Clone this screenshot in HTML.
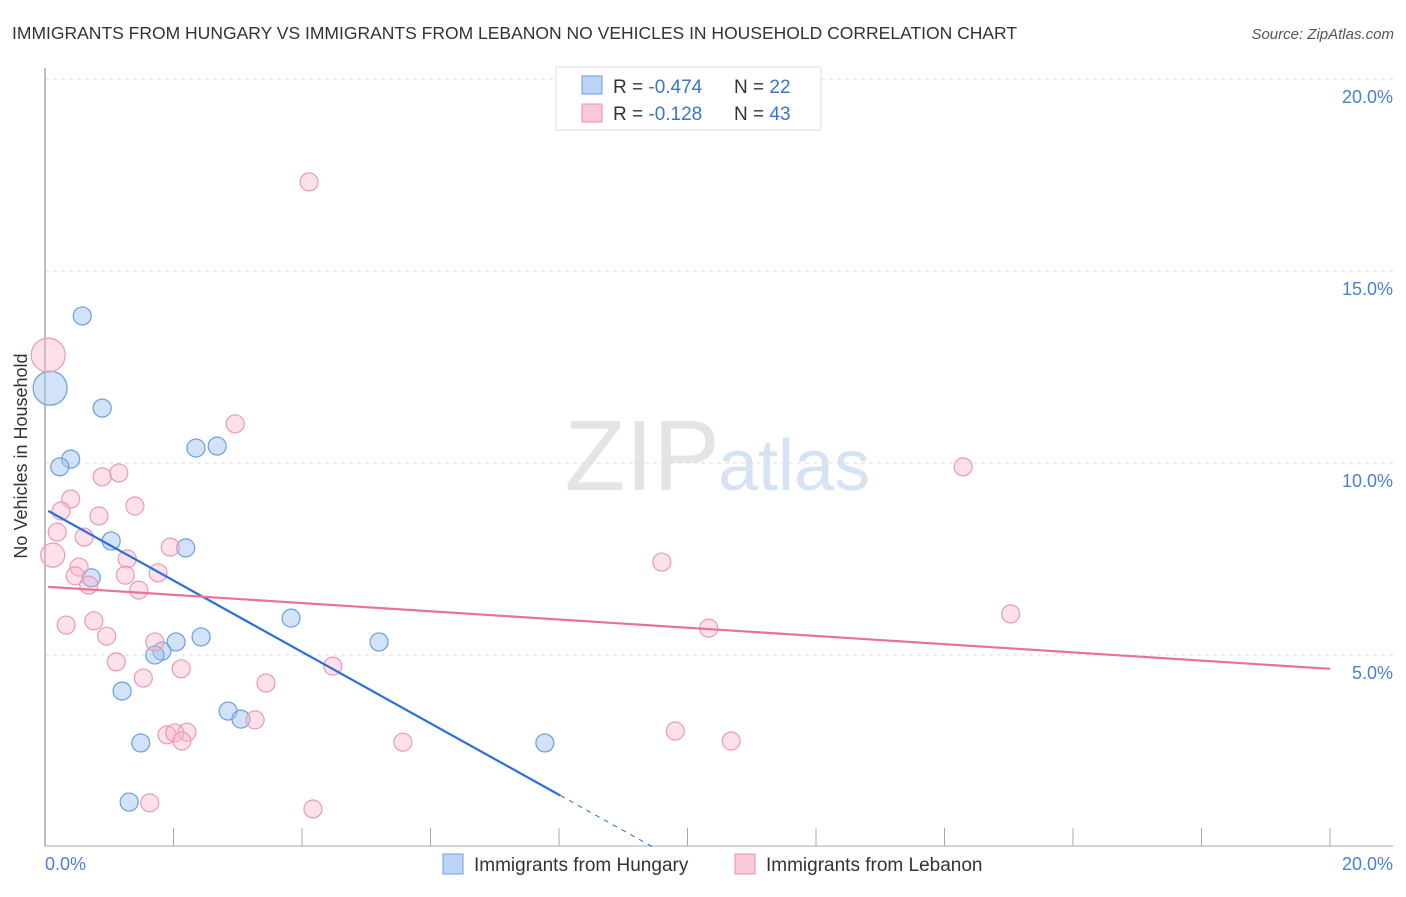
<!DOCTYPE html>
<html><head><meta charset="utf-8"><style>
body{margin:0;background:#fff;font-family:"Liberation Sans",sans-serif}
svg text{font-family:"Liberation Sans",sans-serif}
</style></head><body>
<svg id="c" width="1406" height="892">
<text x="12" y="39" font-size="17.5" fill="#333">IMMIGRANTS FROM HUNGARY VS IMMIGRANTS FROM LEBANON NO VEHICLES IN HOUSEHOLD CORRELATION CHART</text>
<text x="1394" y="39" font-size="15" fill="#555" font-style="italic" text-anchor="end">Source: ZipAtlas.com</text>
<text x="720" y="490" font-size="100" fill="#e4e4e4" text-anchor="end" font-family="Liberation Serif">ZIP</text>
<text x="718" y="490" font-size="72" fill="#d6e3f5">atlas</text>
<g id="grid"></g>
<line x1="45" y1="68" x2="45" y2="846" stroke="#aaa" stroke-width="1.5"/>
<line x1="45" y1="846" x2="1393" y2="846" stroke="#aaa" stroke-width="1"/>
<text x="27" y="456" font-size="18" fill="#333" text-anchor="middle" transform="rotate(-90 27 456)">No Vehicles in Household</text>
<text x="45" y="870" font-size="18" fill="#4a7fd4">0.0%</text>
<text x="1393" y="870" font-size="18" fill="#4a7fd4" text-anchor="end">20.0%</text>
<g id="pts"></g>
<g>
<rect x="556" y="67" width="265" height="63" fill="#fff" stroke="#ddd"/>
<rect x="582" y="76" width="20" height="18" fill="#bcd3f5" stroke="#6a9fe0"/>
<rect x="582" y="104" width="20" height="18" fill="#fac8d8" stroke="#e890b0"/>
<text x="613" y="93" font-size="19" fill="#333">R = <tspan fill="#3a73d0">-0.474</tspan><tspan x="734">N = </tspan><tspan fill="#3a73d0">22</tspan></text>
<text x="613" y="120" font-size="19" fill="#333">R = <tspan fill="#3a73d0"> -0.128</tspan><tspan x="734">N = </tspan><tspan fill="#3a73d0">43</tspan></text>
</g>
<g>
<rect x="443" y="854" width="20" height="20" fill="#bcd3f5" stroke="#6a9fe0"/>
<text x="474" y="871" font-size="19" fill="#333">Immigrants from Hungary</text>
<rect x="735" y="854" width="20" height="20" fill="#fac8d8" stroke="#e890b0"/>
<text x="766" y="871" font-size="19" fill="#333">Immigrants from Lebanon</text>
</g>
</svg>
<script>
const yTicks=[5,10,15,20];
const yTickLabels=["5.0%","10.0%","15.0%","20.0%"];
const xTicks=[0,2,4,6,8,10,12,14,16,18,20];
const hungaryX=[0.58,0.08,0.89,0.40,0.23,2.35,2.68,1.03,2.19,0.72,3.83,5.20,2.43,2.04,1.82,1.71,1.20,2.85,3.05,1.49,7.78,1.31];
const hungaryY=[13.83,11.95,11.43,10.10,9.90,10.39,10.44,7.97,7.79,7.01,5.96,5.34,5.47,5.34,5.10,5.00,4.06,3.54,3.33,2.71,2.71,1.17];
const hungaryBig=[0,1,0,0,0,0,0,0,0,0,0,0,0,0,0,0,0,0,0,0,0,0];
const lebanonX=[4.11,0.05,2.96,14.29,1.15,0.89,0.40,0.25,1.40,0.84,0.19,0.61,1.95,0.12,1.28,9.60,0.53,0.47,1.25,1.76,0.68,1.46,15.03,0.76,0.33,0.96,10.33,1.71,1.11,2.12,4.48,1.53,3.44,3.27,1.90,2.21,2.02,2.13,5.57,9.81,10.68,1.63,4.17];
const lebanonY=[17.32,12.81,11.02,9.90,9.74,9.64,9.06,8.75,8.88,8.62,8.20,8.07,7.81,7.60,7.50,7.42,7.29,7.06,7.08,7.14,6.82,6.69,6.07,5.89,5.78,5.49,5.70,5.34,4.82,4.64,4.71,4.40,4.27,3.31,2.92,2.99,2.97,2.76,2.73,3.02,2.76,1.15,0.99];
const lebanonBig=[0,2,0,0,0,0,0,0,0,0,0,0,0,1,0,0,0,0,0,0,0,0,0,0,0,0,0,0,0,0,0,0,0,0,0,0,0,0,0,0,0,0,0];
const hungaryTrend=[8.8,-0.93];
const lebanonTrend=[6.78,-0.107];
const NS="http://www.w3.org/2000/svg";
const X=v=>45+v*64.25, Y=v=>847-v*38.4;
function mk(tag,attrs,parent){const e=document.createElementNS(NS,tag);for(const k in attrs)e.setAttribute(k,attrs[k]);parent.appendChild(e);return e;}
const grid=document.getElementById('grid'), pts=document.getElementById('pts'), svg=document.getElementById('c');
yTicks.forEach((t,i)=>{
  const l=mk('line',{x1:45,x2:1393,y1:Y(t),y2:Y(t),stroke:'#ddd','stroke-dasharray':'4,4'},grid);
  
  
  const tx=mk('text',{x:1393,y:Y(t)+24,'font-size':18,fill:'#4a7fd4','text-anchor':'end'},grid);
  tx.textContent=yTickLabels[i];
  
  
});
xTicks.forEach(t=>{
  const l=mk('line',{x1:X(t),x2:X(t),y1:828,y2:846,stroke:'#aaa'},grid);
  
  
});
function series(xs,ys,big,fill,stroke,name){
  xs.forEach((x,i)=>{
    const r=big[i]==1?(name=='hungary'?17:12):(big[i]==2?17:9);
    const c=mk('circle',{cx:X(x),cy:Y(ys[i]),r:r,fill:fill,stroke:stroke,'stroke-width':1.2},pts);
    
    
  });
}
series(hungaryX,hungaryY,hungaryBig,'rgba(165,198,240,0.5)','#6a9fe0','hungary');
series(lebanonX,lebanonY,lebanonBig,'rgba(248,180,202,0.4)','#e99ab8','lebanon');
const bEnd=8.02, bZero=-hungaryTrend[0]/hungaryTrend[1];
let l=mk('line',{x1:X(0.05),y1:Y(hungaryTrend[0]+hungaryTrend[1]*0.05),x2:X(bEnd),y2:Y(hungaryTrend[0]+hungaryTrend[1]*bEnd),stroke:'#2c6fd6','stroke-width':2.2},pts);


l=mk('line',{x1:X(bEnd),y1:Y(hungaryTrend[0]+hungaryTrend[1]*bEnd),x2:X(bZero),y2:Y(0),stroke:'#2c6fd6','stroke-width':1,'stroke-dasharray':'5,5'},pts);


l=mk('line',{x1:X(0.05),y1:Y(lebanonTrend[0]+lebanonTrend[1]*0.05),x2:X(20),y2:Y(lebanonTrend[0]+lebanonTrend[1]*20),stroke:'#e8709a','stroke-width':2.2},pts);


</script>
</body></html>
